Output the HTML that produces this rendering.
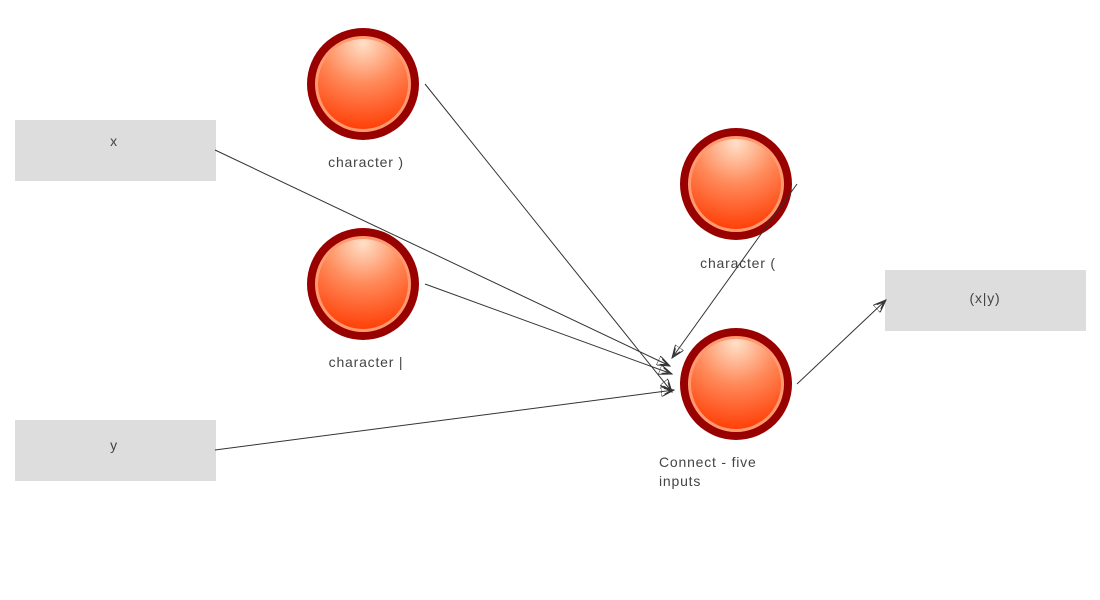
<!DOCTYPE html>
<html><head><style>
body{margin:0;width:1100px;height:600px;background:#fff;overflow:hidden;font-family:"Liberation Sans",sans-serif;}
</style></head><body>
<svg width="1100" height="600" xmlns="http://www.w3.org/2000/svg" style="position:absolute;left:0;top:0">
<defs>
<radialGradient id="g" cx="0.5" cy="0.05" r="1" fx="0.5" fy="0.05">
<stop offset="0" stop-color="#ffe0c8"/><stop offset="0.45" stop-color="#ff8a5a"/><stop offset="0.95" stop-color="#ff4008"/>
</radialGradient>
<marker id="a" markerWidth="14" markerHeight="10" refX="13" refY="5" orient="auto" markerUnits="userSpaceOnUse">
<path d="M0,0 L13,5 L0,10 Z M3,2 L10,5 L3,8" fill="none" stroke="#333" stroke-width="1"/>
</marker>
</defs>
<g fill="#ddd">
<rect x="15" y="120" width="201" height="61"/>
<rect x="15" y="420" width="201" height="61"/>
<rect x="885" y="270" width="201" height="61"/>
</g>
<g font-size="14" fill="#444" text-anchor="middle" letter-spacing="0.8">
<text x="114" y="146">x</text>
<text x="114" y="450">y</text>
<text x="985" y="303">(x|y)</text>
<text x="366" y="167">character  )</text>
<text x="366" y="367">character  |</text>
<text x="738" y="268">character  (</text>
<text x="659" y="467" text-anchor="start">Connect  -  five</text>
<text x="659" y="486" text-anchor="start">inputs</text>
</g>
<g>
<circle cx="363" cy="84" r="56" fill="#990000"/><circle cx="363" cy="84" r="48" fill="#ff9a70"/><circle cx="363" cy="84" r="45" fill="url(#g)"/>
<circle cx="363" cy="284" r="56" fill="#990000"/><circle cx="363" cy="284" r="48" fill="#ff9a70"/><circle cx="363" cy="284" r="45" fill="url(#g)"/>
<circle cx="736" cy="184" r="56" fill="#990000"/><circle cx="736" cy="184" r="48" fill="#ff9a70"/><circle cx="736" cy="184" r="45" fill="url(#g)"/>
<circle cx="736" cy="384" r="56" fill="#990000"/><circle cx="736" cy="384" r="48" fill="#ff9a70"/><circle cx="736" cy="384" r="45" fill="url(#g)"/>
</g>
<g stroke="#333" stroke-width="1" fill="none" marker-end="url(#a)">
<line x1="425" y1="84" x2="672" y2="392"/>
<line x1="215" y1="150" x2="670" y2="366"/>
<line x1="425" y1="284" x2="672" y2="374"/>
<line x1="215" y1="450" x2="674" y2="390"/>
<line x1="797" y1="184" x2="672" y2="358"/>
<line x1="797" y1="384" x2="886" y2="300"/>
</g>
</svg>
</body></html>
